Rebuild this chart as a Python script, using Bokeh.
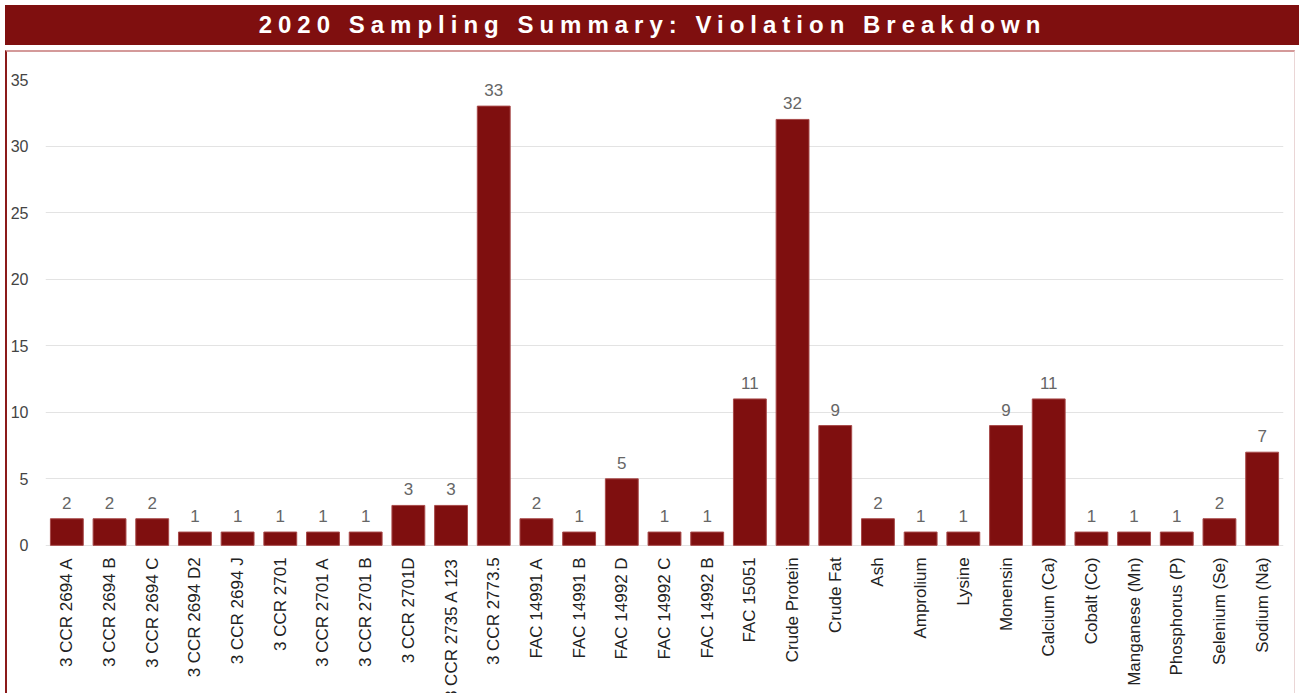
from math import pi
from bokeh.plotting import figure
from bokeh.models import ColumnDataSource, FactorRange, Range1d, FixedTicker, Div
from bokeh.layouts import column
from bokeh.core.properties import value
from bokeh.embed import file_html
from bokeh.resources import INLINE

title_text = "2020 Sampling Summary: Violation Breakdown"

categories = [
    "3 CCR 2694 A", "3 CCR 2694 B", "3 CCR 2694 C", "3 CCR 2694 D2", "3 CCR 2694 J",
    "3 CCR 2701", "3 CCR 2701 A", "3 CCR 2701 B", "3 CCR 2701D", "3 CCR 2735 A 123",
    "3 CCR 2773.5", "FAC 14991 A", "FAC 14991 B", "FAC 14992 D", "FAC 14992 C",
    "FAC 14992 B", "FAC 15051", "Crude Protein", "Crude Fat", "Ash", "Amprolium",
    "Lysine", "Monensin", "Calcium (Ca)", "Cobalt (Co)", "Manganese (Mn)",
    "Phosphorus (P)", "Selenium (Se)", "Sodium (Na)",
]
violations = [2, 2, 2, 1, 1, 1, 1, 1, 3, 3, 33, 2, 1, 5, 1, 1, 11, 32, 9, 2, 1, 1, 9, 11, 1, 1, 1, 2, 7]
y_ticks = [0, 5, 10, 15, 20, 25, 30, 35]

FONT = "Liberation Sans"
BAR = "#7f0f0f"

src = ColumnDataSource(dict(
    cat=categories,
    val=violations,
    label=[str(v) for v in violations],
    zero=[0] * len(categories),
))

title = Div(
    text=title_text,
    width=1295, height=40,
    styles={
        "background-color": BAR, "color": "white", "font-family": FONT,
        "font-weight": "bold", "font-size": "24px", "letter-spacing": "6px",
        "text-align": "center", "line-height": "40px", "white-space": "nowrap",
    },
)

p = figure(
    width=1290, height=643,
    x_range=FactorRange(factors=categories),
    y_range=Range1d(-11.28, 35),
    output_backend="svg", toolbar_location=None,
    min_border_left=38, min_border_right=14, min_border_top=27, min_border_bottom=0,
    styles={"border-left": "2px solid #8b1a1a", "border-right": "1px solid #ead6d6",
            "border-top": "2px solid #d49a9a", "margin-left": "5px"},
)
p.outline_line_color = None
p.background_fill_color = "white"
p.border_fill_color = "white"

p.vbar(x="cat", top="val", width=0.77, source=src, fill_color=BAR, line_color="#a84a4a", line_width=1)

p.text(x="cat", y="val", text="label", source=src, text_align="center",
       text_baseline="bottom", y_offset=-10, text_font=value(FONT),
       text_font_size="17px", text_color="#666666")

p.text(x="cat", y="zero", text="cat", source=src, angle=pi / 2, text_align="right",
       text_baseline="middle", y_offset=12, text_font=value(FONT),
       text_font_size="17px", text_color="#222222")

p.xaxis.visible = False
p.xgrid.visible = False
p.yaxis.ticker = FixedTicker(ticks=y_ticks)
p.ygrid.ticker = FixedTicker(ticks=y_ticks)
p.ygrid.grid_line_color = "#e3e3e3"
p.ygrid.grid_line_width = 1
p.yaxis.axis_line_color = None
p.yaxis.major_tick_line_color = None
p.yaxis.minor_tick_line_color = None
p.yaxis.major_label_standoff = 11
p.yaxis.major_label_text_font = FONT
p.yaxis.major_label_text_font_size = "16px"
p.yaxis.major_label_text_color = "#444444"

layout = column(title, p, spacing=0)

with open("out.html", "w") as f:
    f.write(file_html(layout, INLINE))
